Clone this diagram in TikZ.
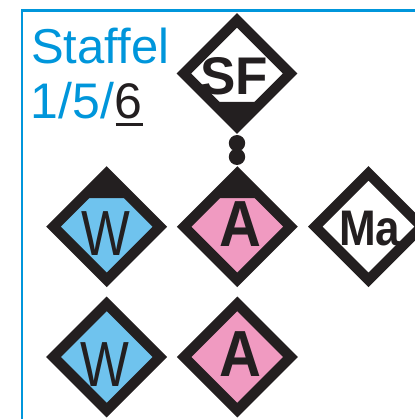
\documentclass[tikz,border=0pt]{standalone}
\usepackage{fontspec}
\setmainfont{Liberation Sans}
\usetikzlibrary{shapes.geometric}
\definecolor{ink}{HTML}{231F20}
\definecolor{frameblue}{HTML}{0096DB}
\definecolor{wblue}{HTML}{6FC3EE}
\definecolor{apink}{HTML}{F09AC1}
\begin{document}
\begin{tikzpicture}[x=1pt,y=-1pt,
  sym/.style={diamond, aspect=1, inner sep=0pt, outer sep=0pt, minimum size=106.4pt,
    draw=ink, line width=10.3pt, line join=miter},
  topcap/.style={path picture={\fill[ink] (path picture bounding box.north)
      -- ++(-24.7pt,-24.7pt) -- ++(49.4pt,0pt) -- cycle;}},
  botcap/.style={path picture={\fill[ink] (path picture bounding box.south)
      -- ++(-24.7pt,24.7pt) -- ++(49.4pt,0pt) -- cycle;}},
  lbl/.style={anchor=base, inner sep=0pt, outer sep=0pt, text=ink},
  dot/.style={circle, fill=ink, inner sep=0pt, outer sep=0pt, minimum size=16.4pt},
  title/.style={anchor=base west, inner sep=0pt, text=frameblue,
    font=\fontsize{50}{50}\selectfont}
]
\useasboundingbox (0,0) rectangle (414,419);
% frame
\draw[frameblue, line width=2.3pt] (21.7,425) -- (21.7,10.5) -- (425,10.5);
% title
\node[title, font=\fontsize{49}{49}\selectfont] (t1) at (31,63.3) {Staffel};
\node[title] (t2) at (30.5,118.3) {1/5/{\color{ink}\rlap{\hspace{1.6pt}\rule[-7.4pt]{27.7pt}{2.4pt}}6}};
% symbols
\node[sym, fill=white, botcap] (sf) at (237,73.5) {};
\node[sym, fill=wblue, topcap] (w1) at (106.7,226.7) {};
\node[sym, fill=apink, topcap] (a1) at (237.3,226.7) {};
\node[sym, fill=white] (ma) at (368.5,226.6) {};
\node[sym, fill=wblue] (w2) at (106.7,357) {};
\node[sym, fill=apink] (a2) at (237.3,357) {};
% dots linking SF and A
\node[dot] (c1) at (237,143.2) {};
\node[dot] (c2) at (237,156.8) {};
% labels
\node[lbl, font=\bfseries\fontsize{53}{53}\selectfont] (lsf) at (234.2,95) {SF};
\node[lbl, font=\fontsize{63.8}{64}\selectfont] (lw1) at (105.9,255) {\scalebox{0.81}[1]{W}};
\node[lbl, font=\bfseries\fontsize{65.2}{65}\selectfont] (la1) at (240.8,246.7) {\scalebox{0.89}[1]{A}};
\node[lbl, font=\bfseries\fontsize{50}{50}\selectfont] (lma) at (369.7,245) {\scalebox{0.88}[1]{Ma}};
\node[lbl, font=\fontsize{63.8}{64}\selectfont] (lw2) at (105.3,386.7) {\scalebox{0.81}[1]{W}};
\node[lbl, font=\bfseries\fontsize{65.2}{65}\selectfont] (la2) at (240.8,376.7) {\scalebox{0.89}[1]{A}};
\end{tikzpicture}
\end{document}
